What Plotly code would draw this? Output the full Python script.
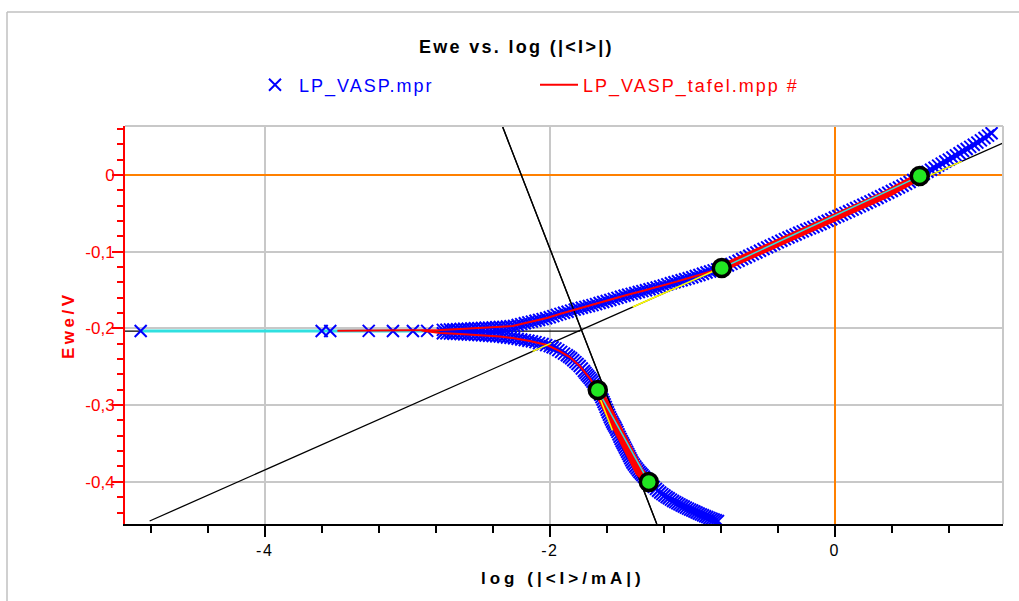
import plotly.graph_objects as go

# ---------------- data ----------------
# sparse points close to E_corr (log|I| very small)
near_x = [-4.87, -3.60, -3.54, -3.27, -3.10, -2.96, -2.86]
near_y = [-0.2034, -0.2034, -0.2034, -0.2032, -0.2034, -0.2033, -0.2032]

# anodic branch of the measured data
anodic_x = [-2.75, -2.70, -2.65, -2.60, -2.55, -2.50, -2.45, -2.40, -2.35, -2.30,
            -2.25, -2.20, -2.15, -2.10, -2.05, -2.00, -1.95, -1.90, -1.85, -1.80,
            -1.75, -1.70, -1.65, -1.60, -1.55, -1.50, -1.45, -1.40, -1.35, -1.30,
            -1.25, -1.20, -1.15, -1.10, -1.05, -1.00, -0.95, -0.90, -0.85, -0.80,
            -0.75, -0.70, -0.65, -0.60, -0.55, -0.50, -0.45, -0.40, -0.35, -0.30,
            -0.25, -0.20, -0.15, -0.10, -0.05, 0.00, 0.05, 0.10, 0.15, 0.20,
            0.25, 0.30, 0.35, 0.40, 0.45, 0.50, 0.55, 0.60, 0.65, 0.70,
            0.75, 0.80, 0.85, 0.90, 0.95, 1.00, 1.05, 1.10]
anodic_y = [-0.2019, -0.2014, -0.2010, -0.2005, -0.2000, -0.1996, -0.1991, -0.1987, -0.1982, -0.1975,
            -0.1966, -0.1944, -0.1921, -0.1900, -0.1878, -0.1855, -0.1823, -0.1796, -0.1768, -0.1742,
            -0.1719, -0.1696, -0.1669, -0.1641, -0.1614, -0.1587, -0.1560, -0.1537, -0.1513, -0.1489,
            -0.1465, -0.1439, -0.1411, -0.1384, -0.1358, -0.1332, -0.1302, -0.1270, -0.1243, -0.1217,
            -0.1178, -0.1138, -0.1095, -0.1052, -0.1009, -0.0965, -0.0921, -0.0878, -0.0835, -0.0794,
            -0.0753, -0.0714, -0.0676, -0.0637, -0.0595, -0.0554, -0.0513, -0.0472, -0.0429, -0.0386,
            -0.0343, -0.0299, -0.0254, -0.0208, -0.0162, -0.0115, -0.0065, -0.0009, 0.0044, 0.0096,
            0.0149, 0.0202, 0.0257, 0.0313, 0.0368, 0.0423, 0.0483, 0.0546]
# further anodic readings, between the ones above
anodic2_x = [-2.725, -2.675, -2.625, -2.575, -2.525, -2.475, -2.425, -2.375, -2.325, -2.275,
             -2.225, -2.175, -2.125, -2.075, -2.025, -1.975, -1.925, -1.875, -1.825, -1.775,
             -1.725, -1.675, -1.625, -1.575, -1.525, -1.475, -1.425, -1.375, -1.325, -1.275,
             -1.225, -1.175, -1.125, -1.075, -1.025, -0.975, -0.925, -0.875, -0.825, -0.775,
             -0.725, -0.675, -0.625, -0.575, -0.525, -0.475, -0.425, -0.375, -0.325, -0.275,
             -0.225, -0.175, -0.125, -0.075, -0.025, 0.025, 0.075, 0.125, 0.175, 0.225,
             0.275, 0.325, 0.375, 0.425, 0.475, 0.525, 0.575, 0.625, 0.675, 0.725,
             0.775, 0.825, 0.875, 0.925, 0.975, 1.025, 1.075]
anodic2_y = [-0.2017, -0.2012, -0.2008, -0.2003, -0.1998, -0.1994, -0.1989, -0.1985, -0.1979, -0.1971,
             -0.1955, -0.1933, -0.1911, -0.1889, -0.1867, -0.1839, -0.1810, -0.1782, -0.1755, -0.1731,
             -0.1708, -0.1683, -0.1655, -0.1628, -0.1601, -0.1574, -0.1549, -0.1525, -0.1501, -0.1477,
             -0.1452, -0.1425, -0.1398, -0.1371, -0.1345, -0.1317, -0.1286, -0.1257, -0.1230, -0.1198,
             -0.1158, -0.1117, -0.1074, -0.1031, -0.0987, -0.0943, -0.0900, -0.0857, -0.0815, -0.0774,
             -0.0734, -0.0695, -0.0657, -0.0616, -0.0575, -0.0534, -0.0493, -0.0451, -0.0408, -0.0365,
             -0.0321, -0.0277, -0.0231, -0.0185, -0.0139, -0.0090, -0.0037, 0.0018, 0.0070, 0.0123,
             0.0176, 0.0230, 0.0285, 0.0341, 0.0396, 0.0453, 0.0515]

# cathodic branch of the measured data
cath_x = [-2.75, -2.70, -2.65, -2.60, -2.55, -2.50, -2.45, -2.40, -2.35, -2.30,
          -2.25, -2.20, -2.15, -2.10, -2.05, -2.00, -1.96, -1.92, -1.88, -1.85,
          -1.82, -1.79, -1.76, -1.74, -1.72, -1.70, -1.68, -1.66, -1.645, -1.63,
          -1.615, -1.60, -1.585, -1.57, -1.555, -1.54, -1.525, -1.51, -1.495, -1.48,
          -1.465, -1.45, -1.435, -1.42, -1.40, -1.38, -1.36, -1.34, -1.32, -1.30,
          -1.27, -1.24, -1.21, -1.18, -1.15, -1.12, -1.09, -1.06, -1.03, -1.00,
          -0.97, -0.94, -0.91, -0.88, -0.85, -0.82]
cath_y = [-0.2062, -0.2066, -0.2071, -0.2076, -0.2080, -0.2085, -0.2092, -0.2099, -0.2106, -0.2117,
          -0.2128, -0.2143, -0.2160, -0.2178, -0.2203, -0.2230, -0.2260, -0.2305, -0.2350, -0.2389,
          -0.2439, -0.2489, -0.2555, -0.2602, -0.2645, -0.2693, -0.2749, -0.2811, -0.2866, -0.2926,
          -0.2990, -0.3060, -0.3125, -0.3188, -0.3243, -0.3291, -0.3349, -0.3412, -0.3470, -0.3524,
          -0.3580, -0.3636, -0.3692, -0.3748, -0.3800, -0.3850, -0.3892, -0.3932, -0.3972, -0.4011,
          -0.4066, -0.4117, -0.4160, -0.4197, -0.4232, -0.4265, -0.4294, -0.4322, -0.4350, -0.4375,
          -0.4399, -0.4424, -0.4448, -0.4470, -0.4491, -0.4511]
# further cathodic readings, between the ones above
cath2_x = [-2.725, -2.675, -2.625, -2.575, -2.525, -2.475, -2.425, -2.375, -2.325, -2.275,
           -2.225, -2.175, -2.125, -2.075, -2.025, -1.98, -1.94, -1.90, -1.865, -1.835,
           -1.805, -1.775, -1.75, -1.73, -1.71, -1.69, -1.67, -1.6525, -1.6375, -1.6225,
           -1.6075, -1.5925, -1.5775, -1.5625, -1.5475, -1.5325, -1.5175, -1.5025, -1.4875, -1.4725,
           -1.4575, -1.4425, -1.4275, -1.41, -1.39, -1.37, -1.35, -1.33, -1.31, -1.285,
           -1.255, -1.225, -1.195, -1.165, -1.135, -1.105, -1.075, -1.045, -1.015, -0.985,
           -0.955, -0.925, -0.895, -0.865, -0.835]
cath2_y = [-0.2064, -0.2069, -0.2074, -0.2078, -0.2083, -0.2089, -0.2096, -0.2103, -0.2112, -0.2123,
           -0.2136, -0.2152, -0.2169, -0.2191, -0.2217, -0.2245, -0.2283, -0.2328, -0.2370, -0.2414,
           -0.2464, -0.2522, -0.2579, -0.2624, -0.2669, -0.2721, -0.2780, -0.2839, -0.2896, -0.2958,
           -0.3025, -0.3093, -0.3157, -0.3216, -0.3267, -0.3320, -0.3381, -0.3441, -0.3497, -0.3552,
           -0.3608, -0.3664, -0.3720, -0.3774, -0.3825, -0.3871, -0.3912, -0.3952, -0.3992, -0.4039,
           -0.4092, -0.4139, -0.4179, -0.4215, -0.4249, -0.4280, -0.4308, -0.4336, -0.4363, -0.4387,
           -0.4412, -0.4436, -0.4459, -0.4481, -0.4501]

# Tafel fit curve (red)
fit_an_x = [-3.49, -3.20, -2.90, -2.77, -2.63, -2.49, -2.35, -2.26, -2.14, -2.02, -1.93,
            -1.81, -1.70, -1.58, -1.46, -1.35, -1.23, -1.11, -1.00, -0.89, -0.793]
fit_an_y = [-0.2030, -0.2030, -0.2028, -0.2021, -0.2008, -0.1995, -0.1982, -0.1969, -0.1917,
            -0.1864, -0.1812, -0.1747, -0.1695, -0.1630, -0.1565, -0.1512, -0.1454, -0.1389,
            -0.1330, -0.1265, -0.1213]
fit_ca_x = [-2.90, -2.77, -2.63, -2.49, -2.35, -2.26, -2.14, -2.02, -1.93, -1.86, -1.79, -1.72, -1.663]
fit_ca_y = [-0.2028, -0.2060, -0.2073, -0.2086, -0.2106, -0.2125, -0.2164, -0.2216, -0.2295,
            -0.2373, -0.2490, -0.2647, -0.2803]
# fitted regions (thick red)
reg_an_x = [-0.793, -0.69, -0.58, -0.47, -0.37, -0.25, -0.12, 0.00, 0.12, 0.25, 0.37, 0.48, 0.596]
reg_an_y = [-0.1213, -0.1128, -0.1037, -0.0939, -0.0847, -0.0750, -0.0652, -0.0554, -0.0456,
            -0.0346, -0.0241, -0.0130, -0.0013]
reg_ca_x = [-1.663, -1.63, -1.60, -1.57, -1.54, -1.51, -1.48, -1.45, -1.42, -1.40, -1.37, -1.34, -1.305]
reg_ca_y = [-0.2803, -0.2926, -0.3060, -0.3188, -0.3291, -0.3412, -0.3524, -0.3636, -0.3748,
            -0.3800, -0.3870, -0.3932, -0.4003]

# Tafel extrapolation lines and E_corr line (black)
tafel_a_x = [-4.807, 1.179]
tafel_a_y = [-0.4511, 0.0417]
tafel_c_x = [-2.330, -1.249]
tafel_c_y = [0.0626, -0.4550]
ecorr_x = [-4.98, -1.785]
ecorr_y = [-0.2034, -0.2034]

# cyan lines
cyan_h_x = [-4.87, -2.85]
cyan_h_y = [-0.2034, -0.2034]
cyan_a_x = [-0.793, 0.596]
cyan_a_y = [-0.1213, -0.0013]
cyan_c_x = [-1.663, -1.305]
cyan_c_y = [-0.2803, -0.4003]

# yellow highlight segments on the Tafel lines
yel_a1_x = [-1.418, -0.793]
yel_a1_y = [-0.1721, -0.1206]
yel_a2_x = [0.596, 0.89]
yel_a2_y = [-0.0063, 0.0179]
yel_a3_x = [-2.12, -1.99]
yel_a3_y = [-0.2299, -0.2191]
yel_c_x = [-1.650, -1.560]
yel_c_y = [-0.2900, -0.3330]

# fit region limits (green points)
green_x = [-0.793, 0.596, -1.663, -1.305]
green_y = [-0.1213, -0.0013, -0.2803, -0.4003]

# axes
x_ticks = [-4, -2, 0]
x_ticktext = ["-4", "-2", "0"]
y_ticks = [0, -0.1, -0.2, -0.3, -0.4]
y_ticktext = ["0", "-0,1", "-0,2", "-0,3", "-0,4"]

FONT = "Liberation Sans, Arial, sans-serif"
BLUE = "#0000ff"
RED = "#ff0000"
CYAN = "#30e0e0"


def spaced(t, px):
    return "<span style='letter-spacing:%spx'>%s</span>" % (px, t)


fig = go.Figure()

# black helper lines
for lx, ly in [(ecorr_x, ecorr_y), (tafel_a_x, tafel_a_y), (tafel_c_x, tafel_c_y)]:
    fig.add_trace(go.Scatter(x=lx, y=ly, mode="lines", line=dict(color="black", width=1.3),
                             showlegend=False, hoverinfo="skip"))
# cyan horizontal
fig.add_trace(go.Scatter(x=cyan_h_x, y=cyan_h_y, mode="lines", line=dict(color=CYAN, width=3),
                         showlegend=False, hoverinfo="skip"))

# measured data
data_x = near_x + anodic_x + anodic2_x + cath_x + cath2_x
data_y = near_y + anodic_y + anodic2_y + cath_y + cath2_y
fig.add_trace(go.Scatter(
    x=data_x, y=data_y, mode="markers",
    name="<span style='color:#0000ff;letter-spacing:2px'>LP_VASP.mpr</span>",
    marker=dict(symbol="x-thin", size=12, color=BLUE, line=dict(color=BLUE, width=2)),
))

# black cathodic Tafel line redrawn above the data
fig.add_trace(go.Scatter(x=tafel_c_x, y=tafel_c_y, mode="lines", line=dict(color="black", width=1.3),
                         showlegend=False, hoverinfo="skip"))

# red fit
fig.add_trace(go.Scatter(
    x=fit_an_x + [None] + fit_ca_x, y=fit_an_y + [None] + fit_ca_y, mode="lines",
    name="<span style='color:#ff0000;letter-spacing:2px'>LP_VASP_tafel.mpp #</span>",
    line=dict(color=RED, width=2),
))
for rx, ry, w in [(reg_an_x, reg_an_y, 8), (reg_ca_x, reg_ca_y, 9)]:
    fig.add_trace(go.Scatter(x=rx, y=ry, mode="lines", line=dict(color=RED, width=w),
                             showlegend=False, hoverinfo="skip"))

# yellow
for yx, yy in [(yel_a1_x, yel_a1_y), (yel_a2_x, yel_a2_y), (yel_a3_x, yel_a3_y), (yel_c_x, yel_c_y)]:
    fig.add_trace(go.Scatter(x=yx, y=yy, mode="lines", line=dict(color="#ffff00", width=1.5),
                             showlegend=False, hoverinfo="skip"))
# cyan fit segments
for cx, cy in [(cyan_a_x, cyan_a_y), (cyan_c_x, cyan_c_y)]:
    fig.add_trace(go.Scatter(x=cx, y=cy, mode="lines", line=dict(color=CYAN, width=1.5),
                             showlegend=False, hoverinfo="skip"))

# green points
fig.add_trace(go.Scatter(x=green_x, y=green_y, mode="markers",
                         marker=dict(symbol="circle", size=17, color="#22e622",
                                     line=dict(color="black", width=3.5)),
                         showlegend=False, hoverinfo="skip"))

L, R, T, B = 125, 16, 126, 77
W, H = 1019, 601
pw, ph = W - L - R, H - T - B


def px_x(p):
    return (p - L) / pw


def px_y(p):
    return (H - B - p) / ph


fig.update_layout(
    width=W, height=H,
    margin=dict(l=L, r=R, t=T, b=B, pad=0),
    paper_bgcolor="white", plot_bgcolor="white",
    font=dict(family=FONT, size=15, color="black"),
    showlegend=True,
    legend=dict(orientation="h", x=px_x(251), xanchor="left", y=px_y(85), yanchor="middle",
                font=dict(size=18, family=FONT), entrywidth=231, entrywidthmode="pixels",
                itemwidth=38,
                bgcolor="rgba(0,0,0,0)", borderwidth=0, itemclick=False),
    xaxis=dict(
        range=[-4.98, 1.18], tickmode="array", tickvals=x_ticks,
        ticktext=[spaced(t, 1.5) for t in x_ticktext],
        showgrid=True, gridcolor="#c8c8c8", gridwidth=2,
        zeroline=True, zerolinecolor="#ff8000", zerolinewidth=2,
        showline=True, linecolor="black", linewidth=2,
        ticks="outside", ticklen=11, tickwidth=2, tickcolor="black",
        tickfont=dict(size=16, color="black", family=FONT),
        minor=dict(tickmode="linear", tick0=0, dtick=0.4, ticks="outside", ticklen=7,
                   tickwidth=2, tickcolor="black", showgrid=False),
    ),
    yaxis=dict(
        range=[-0.455, 0.064], tickmode="array", tickvals=y_ticks,
        ticktext=y_ticktext,
        showgrid=True, gridcolor="#c8c8c8", gridwidth=2,
        zeroline=True, zerolinecolor="#ff8000", zerolinewidth=2,
        showline=True, linecolor=RED, linewidth=2,
        ticks="outside", ticklen=11, tickwidth=2, tickcolor=RED,
        ticklabelstandoff=-6,
        tickfont=dict(size=17, color=RED, family=FONT),
        minor=dict(tickmode="linear", tick0=0, dtick=0.02, ticks="outside", ticklen=6,
                   tickwidth=2, tickcolor=RED, showgrid=False),
    ),
    shapes=[
        dict(type="line", xref="paper", yref="paper", x0=0, x1=1, y0=1, y1=1,
             line=dict(color="#c8c8c8", width=2)),
        dict(type="line", xref="paper", yref="paper", x0=1, x1=1, y0=0, y1=1,
             line=dict(color="#c8c8c8", width=2)),
        dict(type="line", xref="paper", yref="paper", x0=px_x(7), x1=px_x(7), y0=px_y(12), y1=px_y(620),
             line=dict(color="#c0c0c0", width=1.5)),
        dict(type="line", xref="paper", yref="paper", x0=px_x(7), x1=px_x(1040), y0=px_y(12), y1=px_y(12),
             line=dict(color="#c0c0c0", width=1.5)),
    ],
    annotations=[
        dict(text="<b>" + spaced("Ewe vs. log (|&lt;I&gt;|)", 2.3) + "</b>",
             xref="paper", yref="paper", x=px_x(516), y=px_y(47), xanchor="center", yanchor="middle",
             showarrow=False, font=dict(size=18, color="black", family=FONT)),
        dict(text="<b>" + spaced("Ewe/V", 3.5) + "</b>", textangle=-90,
             xref="paper", yref="paper", x=px_x(68), y=px_y(325), xanchor="center", yanchor="middle",
             showarrow=False, font=dict(size=17, color=RED, family=FONT)),
        dict(text="<b>" + spaced("log (|&lt;I&gt;/mA|)", 4) + "</b>",
             xref="paper", yref="paper", x=px_x(563), y=px_y(578), xanchor="center", yanchor="middle",
             showarrow=False, font=dict(size=17, color="black", family=FONT)),
    ],
)

fig.write_html("out.html", post_script="document.body.style.margin='0';",
               config={"displayModeBar": False})
